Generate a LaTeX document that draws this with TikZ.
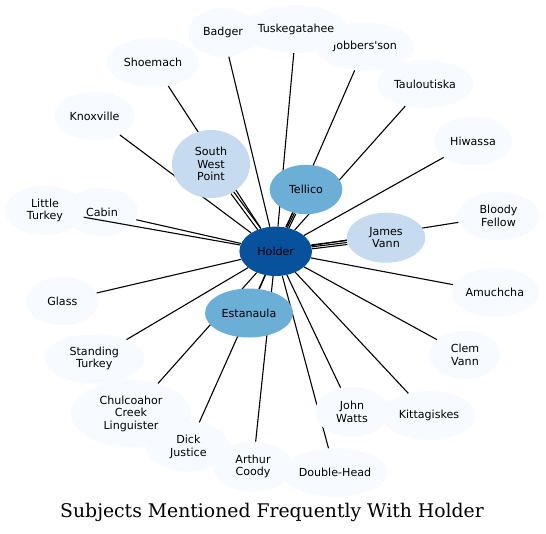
\documentclass[tikz,border=0pt]{standalone}
\usepackage{fontspec}
\usetikzlibrary{shapes.geometric}
\newfontfamily\nodefont{DejaVu Sans}
\newfontfamily\titlefont{DejaVu Serif}
\definecolor{cDark}{HTML}{08519C}
\definecolor{cMid}{HTML}{6BAED6}
\definecolor{cLight}{HTML}{C6DBEF}
\definecolor{cFaint}{HTML}{F7FBFF}
\pgfdeclarelayer{nodesbelow}
\pgfdeclarelayer{edgelayer}
\pgfsetlayers{nodesbelow,edgelayer,main}
\begin{document}
\begin{tikzpicture}[x=1pt,y=-1pt,
  nd/.style={ellipse, inner sep=0pt, draw=none},
  sz/.style 2 args={minimum width=#1pt, minimum height=#2pt},
  lab/.style={font=\nodefont\fontsize{11.1}{12.4}\selectfont, align=center, inner sep=0pt, text=black},
  txt/.style={label={[lab]center:{#1}}},
  faint/.style={nd, fill=cFaint},
  light/.style={nd, fill=cLight},
  mid/.style={nd, fill=cMid},
  dark/.style={nd, fill=cDark},
  link/.style={draw=black, line width=1.1pt},
  titlestyle/.style={font=\titlefont\fontsize{18.8}{22}\selectfont, inner sep=0pt, anchor=base}
]
\begin{pgfonlayer}{nodesbelow}
\fill[white] (0,0) rectangle (546,533);
\useasboundingbox (0,0) rectangle (546,533);
\node[faint, sz={70}{48.5}, txt={Badger}] (badger) at (223,32.5) {};
\node[faint, sz={98}{48}, txt={Jobbers\textquotesingle son}] (jobbers) at (365,46.7) {};
\node[faint, sz={102}{48}, txt={Tuskegatahee}] (tusk) at (296,29) {};
\node[faint, sz={92}{49.5}, txt={Shoemach}] (shoemach) at (153,62.5) {};
\node[faint, sz={96}{48}, txt={Tauloutiska}] (taul) at (425,84) {};
\node[faint, sz={81}{48}, txt={Knoxville}] (knox) at (94.5,116) {};
\node[faint, sz={78}{49}, txt={Hiwassa}] (hiwassa) at (473,141) {};
\node[faint, sz={72}{48.6}, txt={Cabin}] (cabin) at (102,212) {};
\node[faint, sz={80}{49}, txt={Little\\Turkey}] (lturkey) at (45,210.3) {};
\node[faint, sz={83}{48}, txt={Bloody\\Fellow}] (bloody) at (498.5,216) {};
\node[faint, sz={72.6}{48.4}, txt={Glass}] (glass) at (62.3,301) {};
\node[faint, sz={88}{48.4}, txt={Amuchcha}] (amuchcha) at (494.8,292.5) {};
\node[faint, sz={100}{49.4}, txt={Standing\\Turkey}] (sturkey) at (94.3,358.7) {};
\node[faint, sz={72}{48}, txt={Clem\\Vann}] (clem) at (465,355) {};
\node[faint, sz={120}{67.4}, txt={Chulcoahor\\Creek\\Linguister}] (chul) at (131,413.7) {};
\node[faint, sz={93}{49}, txt={Kittagiskes}] (kitta) at (429,415.5) {};
\node[faint, sz={84}{50}, txt={Dick\\Justice}] (dick) at (188.4,446.7) {};
\node[faint, sz={80}{50}, txt={Arthur\\Coody}] (arthur) at (253,466.7) {};
\node[faint, sz={106}{48.4}, txt={Double-Head}] (double) at (335,472.5) {};
\end{pgfonlayer}

\node[faint, sz={74}{50}, txt={John\\Watts}] (john) at (352,411.7) {};
\node[light, sz={78}{68}, txt={South\\West\\Point}] (swp) at (211,164) {};
\node[mid, sz={72.6}{49.4}, txt={Tellico}] (tellico) at (306,189.5) {};
\node[light, sz={78.6}{50}, txt={James\\Vann}] (jvann) at (386,237.7) {};
\node[mid, sz={88}{49}, txt={Estanaula}] (estanaula) at (249,313) {};
\node[dark, sz={72.6}{49.4}, txt={Holder}] (holder) at (275.7,251.3) {};

\begin{pgfonlayer}{edgelayer}
\foreach \n in {badger,jobbers,tusk,shoemach,taul,knox,hiwassa,cabin,lturkey,bloody,glass,amuchcha,sturkey,clem,chul,kitta,dick,arthur,double,john,estanaula}
  \draw[link] (holder) -- (\n);
\draw[link, transform canvas={shift={(1.32,-0.98)}}] (holder) -- (swp);
\draw[link, transform canvas={shift={(-1.32,0.98)}}] (holder) -- (swp);
\draw[link] (holder) -- (tellico);
\draw[link, transform canvas={shift={(1.44,0.70)}}] (holder) -- (tellico);
\draw[link, transform canvas={shift={(-1.44,-0.70)}}] (holder) -- (tellico);
\draw[link] (holder) -- (jvann);
\draw[link, transform canvas={shift={(0.24,1.99)}}] (holder) -- (jvann);
\draw[link, transform canvas={shift={(-0.24,-1.99)}}] (holder) -- (jvann);
\end{pgfonlayer}

\node[titlestyle] (title) at (272,517.7) {Subjects Mentioned Frequently With Holder};
\end{tikzpicture}
\end{document}
